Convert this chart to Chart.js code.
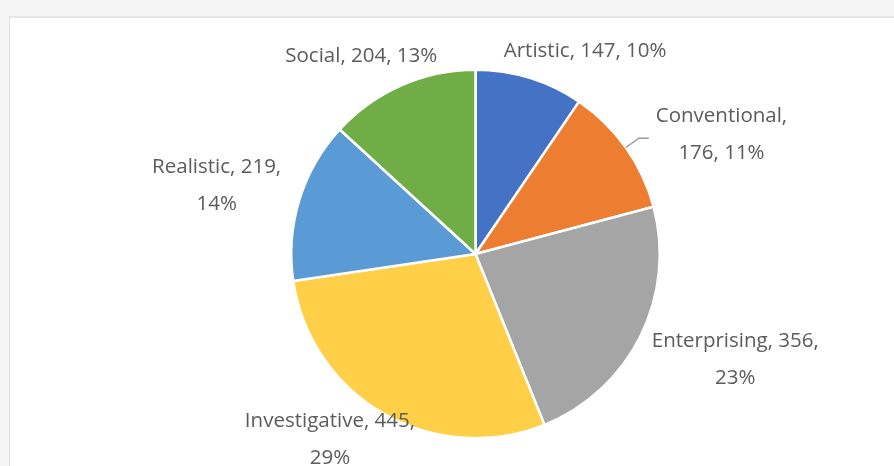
<!DOCTYPE html>
<html>
<head>
<meta charset="utf-8">
<script src="https://cdn.jsdelivr.net/npm/chart.js@4"></script>
<style>
html,body{margin:0;padding:0;}
body{width:894px;height:466px;background:#f5f5f5;overflow:hidden;position:relative;}
.frame{position:absolute;left:9px;top:16px;width:885px;height:450px;background:#fff;border-left:1px solid #dcdcdc;border-top:2px solid #e6e6e6;}
canvas{display:block;}
</style>
</head>
<body>
<div class="frame"><canvas id="pie" width="884" height="448"></canvas></div>
<script>
// data
const categories = ["Artistic","Conventional","Enterprising","Investigative","Realistic","Social"];
const counts = [147,176,356,445,219,204];
const sliceColors = ["#4472C4","#ED7D31","#A5A5A5","#FFCF47","#5B9BD5","#70AD47"];

// label layout: where each text block sits, in units of the pie radius from its centre
const labelPos = [[0.595,-1.10],[1.335,-0.65],[1.41,0.575],[-0.79,1.005],[-1.405,-0.37],[-0.62,-1.075]];
// 0 = one line, 1 = break after name, 2 = break after count
const labelBreak = [0,1,2,2,2,0];
const leaderFor = [1];

const total = counts.reduce((a,b)=>a+b,0);

const labelPlugin = {
    id:"pieLabels",
    afterDraw(chart){
        const ctx = chart.ctx;
        const arcs = chart.getDatasetMeta(0).data;
        ctx.save();
        ctx.font = '20.5px "Open Sans", sans-serif';
        ctx.fillStyle = "#5b5b5b";
        ctx.textAlign = "center";
        ctx.textBaseline = "middle";
        arcs.forEach((arc,i)=>{
            const p = arc.getProps(["x","y","outerRadius","startAngle","endAngle"],true);
            const r = p.outerRadius;
            const cx = p.x + labelPos[i][0]*r;
            const cy = p.y + labelPos[i][1]*r;
            const pct = Math.round(counts[i]/total*100)+"%";
            let lines;
            if(labelBreak[i]===1) lines=[categories[i]+",", counts[i]+", "+pct];
            else if(labelBreak[i]===2) lines=[categories[i]+", "+counts[i]+",", pct];
            else lines=[categories[i]+", "+counts[i]+", "+pct];
            const lh = 37;
            const y0 = cy - (lines.length-1)*lh/2;
            lines.forEach((t,k)=>ctx.fillText(t,cx,y0+k*lh));

            if(leaderFor.includes(i)){
                const mid = (p.startAngle+p.endAngle)/2;
                const sx = p.x + Math.cos(mid)*r, sy = p.y + Math.sin(mid)*r;
                const ex = p.x + Math.cos(mid)*(r+16), ey = p.y + Math.sin(mid)*(r+16);
                ctx.strokeStyle = "#9a9a9a";
                ctx.lineWidth = 1.5;
                ctx.beginPath();
                ctx.moveTo(sx,sy);
                ctx.lineTo(ex,ey);
                ctx.lineTo(ex+10,ey);
                ctx.stroke();
            }
        });
        ctx.restore();
    }
};

new Chart(document.getElementById("pie"),{
    type:"pie",
    data:{labels:categories,datasets:[{data:counts,backgroundColor:sliceColors,borderColor:"#ffffff",borderWidth:2.5}]},
    options:{
        responsive:false,
        animation:false,
        layout:{padding:{left:280,right:233,top:50,bottom:26}},
        plugins:{legend:{display:false},tooltip:{enabled:false}}
    },
    plugins:[labelPlugin]
});
</script>
</body>
</html>
